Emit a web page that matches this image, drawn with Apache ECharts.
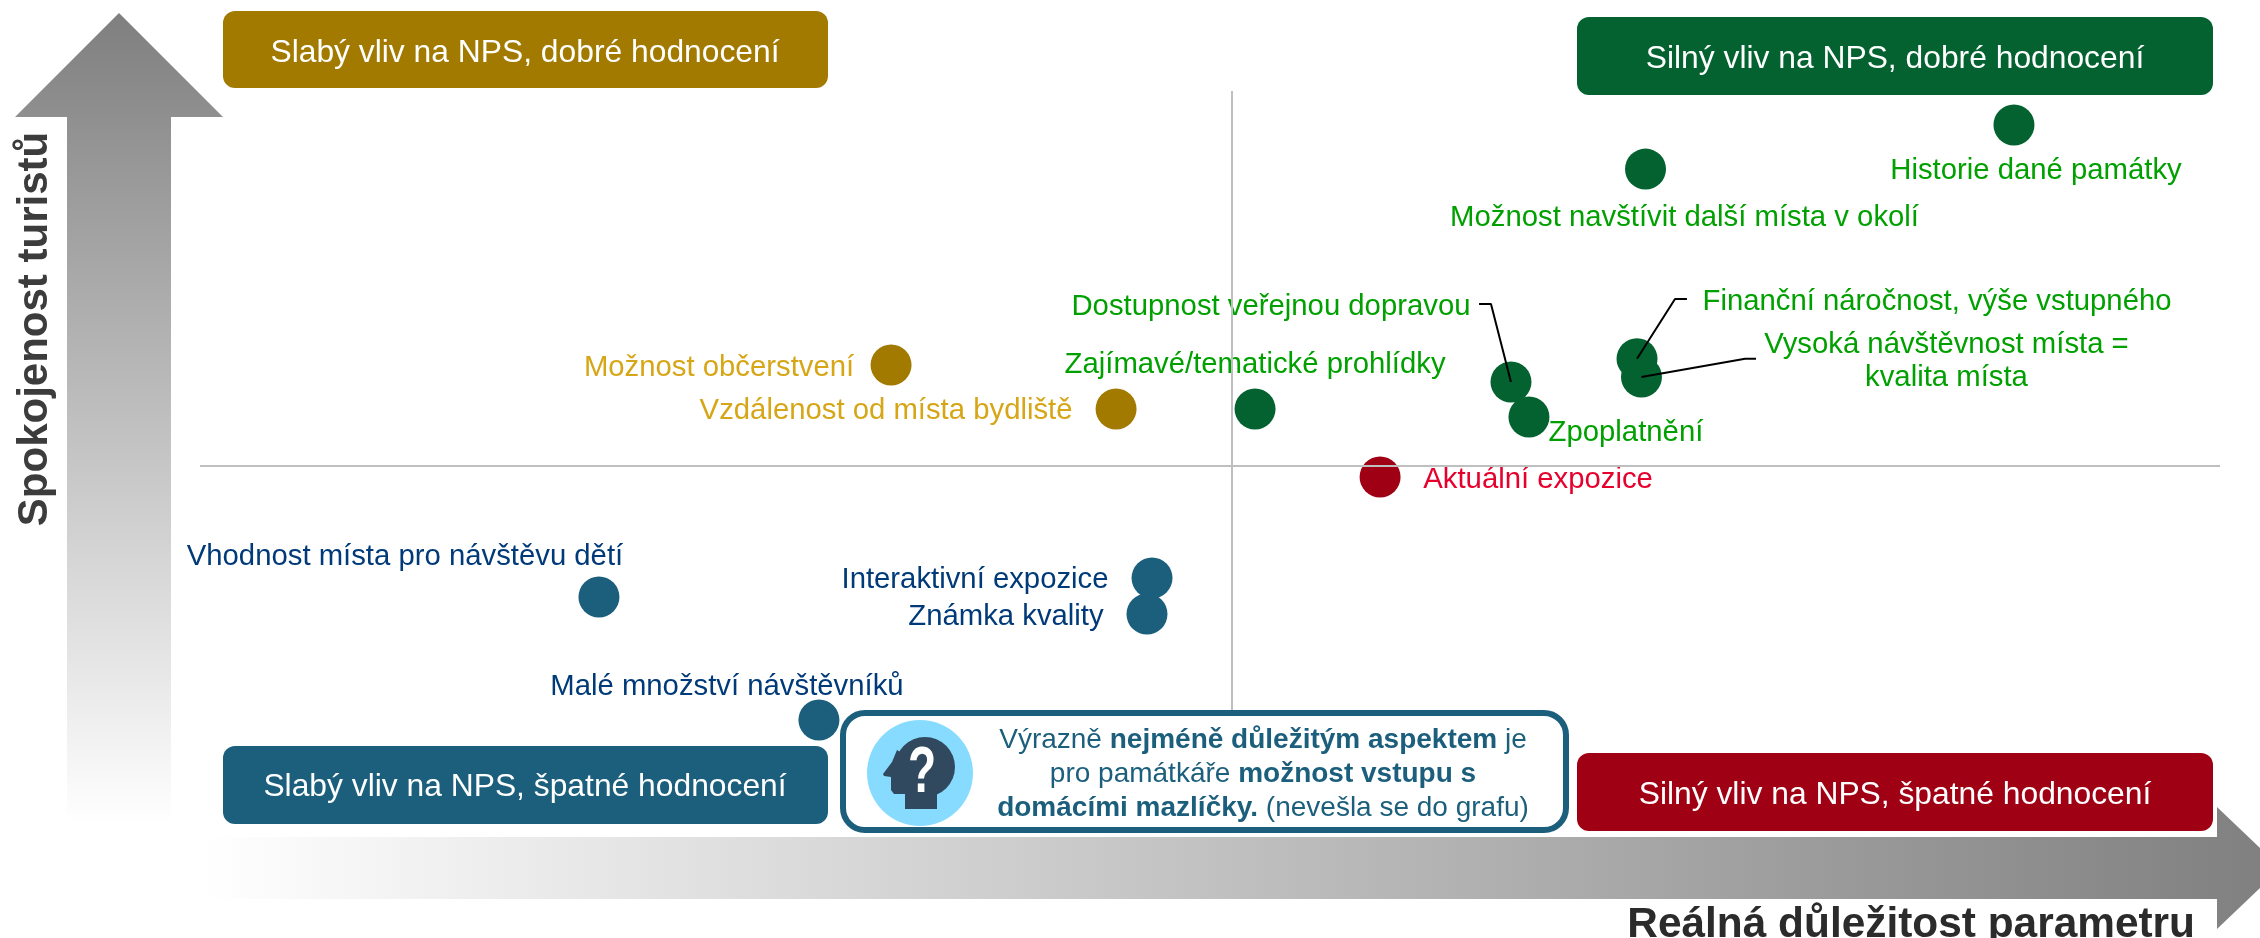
<!DOCTYPE html>
<html>
<head>
<meta charset="utf-8">
<title>Spokojenost turistů a důležitost parametrů</title>
<style>
  html, body { margin: 0; background: #fff; }
  #chart { width: 2260px; height: 938px; }
</style>
<script src="https://cdn.jsdelivr.net/npm/echarts@6/dist/echarts.min.js"></script>
</head>
<body>
<div id="chart"></div>
<script>
const xThreshold = 5.109
const yThreshold = 4.477

const strongGoodNames = ['Historie dané památky', 'Možnost navštívit další místa v okolí', 'Finanční náročnost, výše vstupného', 'Vysoká návštěvnost místa =\nkvalita místa', 'Dostupnost veřejnou dopravou', 'Zpoplatnění', 'Zajímavé/tematické prohlídky']
const strongGoodX = [8.98, 7.156, 7.114, 7.136, 6.49, 6.579, 5.223]
const strongGoodY = [9.5, 8.85, 6.057, 5.788, 5.714, 5.199, 5.317]

const weakGoodNames = ['Možnost občerstvení', 'Vzdálenost od místa bydliště']
const weakGoodX = [3.421, 4.535]
const weakGoodY = [5.965, 5.317]

const strongBadNames = ['Aktuální expozice']
const strongBadX = [5.842]
const strongBadY = [4.315]

const weakBadNames = ['Vhodnost místa pro návštěvu dětí', 'Interaktivní expozice', 'Známka kvality', 'Malé množství návštěvníků']
const weakBadX = [1.975, 4.713, 4.688, 3.064]
const weakBadY = [2.548, 2.828, 2.297, 0.736]

// leader lines: label end, elbow, point
const leaderDostupnost = [[6.332, 6.863], [6.391, 6.863], [6.49, 5.714]]
const leaderFinancni = [[7.361, 6.937], [7.302, 6.937], [7.114, 6.057]]
const leaderVysoka = [[7.703, 6.056], [7.649, 6.056], [7.136, 5.788]]

// label placement relative to the point, px
const labelOffsets = {
  'Historie dané památky': [22, 46],
  'Možnost navštívit další místa v okolí': [39, 49],
  'Finanční náročnost, výše vstupného': [300, -57],
  'Vysoká návštěvnost místa =\nkvalita místa': [305, -16],
  'Dostupnost veřejnou dopravou': [-240, -75],
  'Zpoplatnění': [97, 16],
  'Zajímavé/tematické prohlídky': [0, -44],
  'Možnost občerstvení': [-172, 3],
  'Vzdálenost od místa bydliště': [-230, 2],
  'Aktuální expozice': [158, 3],
  'Vhodnost místa pro návštěvu dětí': [-194, -40],
  'Interaktivní expozice': [-177, 2],
  'Známka kvality': [-141, 3],
  'Malé množství návštěvníků': [-92, -33]
}

const FONT = '"Liberation Sans", Arial, sans-serif'
const GREEN = '#03622f'
const GOLD = '#a27a00'
const BLUE = '#1c5f7c'
const RED = '#a00014'

const pointSeries = (name, names, xs, ys, color, labelColor) => ({
  name,
  type: 'scatter',
  symbolSize: 41,
  itemStyle: { color, opacity: 1 },
  z: 3,
  data: names.map((n, i) => ({
    name: n,
    value: [xs[i], ys[i]],
    label: { offset: labelOffsets[n] }
  })),
  label: {
    show: true,
    position: 'inside',
    formatter: '{b}',
    color: labelColor,
    fontFamily: FONT,
    fontSize: 29.3,
    lineHeight: 33,
    align: 'center',
    verticalAlign: 'middle'
  }
})

const leaderSeries = (data) => ({
  type: 'line',
  data,
  symbol: 'none',
  silent: true,
  z: 5,
  lineStyle: { color: '#000', width: 2 }
})

const quadrantBox = (x, y, width, height, color) => ({
  type: 'rect',
  z: 20,
  shape: { x, y, width, height, r: 12 },
  style: { fill: color }
})

const boxText = (x, y, text) => ({
  type: 'text',
  z: 21,
  x,
  y,
  style: { text, fill: '#fff', fontFamily: FONT, fontSize: 31.8, align: 'center', verticalAlign: 'middle' }
})

const calloutStyles = {
  n: { fontFamily: FONT, fontSize: 28, fill: BLUE },
  b: { fontFamily: FONT, fontSize: 28, fontWeight: 'bold', fill: BLUE }
}

const calloutLine = (y, parts) => ({
  type: 'text',
  z: 22,
  x: 1263,
  y,
  style: {
    rich: calloutStyles,
    text: parts,
    align: 'center',
    verticalAlign: 'middle'
  }
})

const chart = echarts.init(document.getElementById('chart'), null, { renderer: 'canvas' })

chart.setOption({
  animation: false,
  backgroundColor: '#fff',
  grid: { left: 200, right: 40, top: 91, bottom: 168 },
  xAxis: { type: 'value', min: 0, max: 10, axisLine: { show: false }, axisTick: { show: false }, axisLabel: { show: false }, splitLine: { show: false } },
  yAxis: { type: 'value', min: 0, max: 10, axisLine: { show: false }, axisTick: { show: false }, axisLabel: { show: false }, splitLine: { show: false } },
  series: [
    {
      ...pointSeries('Silný vliv, dobré hodnocení', strongGoodNames, strongGoodX, strongGoodY, GREEN, '#00a000'),
      markLine: {
        silent: true,
        symbol: 'none',
        label: { show: false },
        lineStyle: { color: '#bfbfbf', width: 2, type: 'solid' },
        data: [{ xAxis: xThreshold }, { yAxis: yThreshold }]
      }
    },
    pointSeries('Slabý vliv, dobré hodnocení', weakGoodNames, weakGoodX, weakGoodY, GOLD, '#d6a617'),
    pointSeries('Silný vliv, špatné hodnocení', strongBadNames, strongBadX, strongBadY, RED, '#e6002d'),
    pointSeries('Slabý vliv, špatné hodnocení', weakBadNames, weakBadX, weakBadY, BLUE, '#003a78'),
    leaderSeries(leaderDostupnost),
    leaderSeries(leaderFinancni),
    leaderSeries(leaderVysoka)
  ],
  graphic: [
    // axis arrows
    {
      type: 'polygon',
      z: 1,
      shape: { points: [[119, 13], [223, 117], [171, 117], [171, 823], [67, 823], [67, 117], [15, 117]] },
      style: {
        fill: { type: 'linear', x: 0, y: 0, x2: 0, y2: 1, colorStops: [{ offset: 0, color: '#7f7f7f' }, { offset: 1, color: '#ffffff' }] }
      }
    },
    {
      type: 'polygon',
      z: 1,
      shape: { points: [[204, 837], [2217, 837], [2217, 807], [2281, 868], [2217, 929], [2217, 899], [204, 899]] },
      style: {
        fill: { type: 'linear', x: 0, y: 0, x2: 1, y2: 0, colorStops: [{ offset: 0, color: '#ffffff' }, { offset: 1, color: '#7f7f7f' }] }
      }
    },
    {
      type: 'text',
      z: 21,
      x: 35,
      y: 329,
      rotation: Math.PI / 2,
      style: { text: 'Spokojenost turistů', fontFamily: FONT, fontSize: 42, fontWeight: 'bold', fill: '#3c3c3c', align: 'center', verticalAlign: 'middle' }
    },
    {
      type: 'text',
      z: 21,
      x: 2195,
      y: 925,
      style: { text: 'Reálná důležitost parametru', fontFamily: FONT, fontSize: 42.4, fontWeight: 'bold', fill: '#2b2b2b', align: 'right', verticalAlign: 'middle' }
    },
    // quadrant boxes
    quadrantBox(223, 11, 605, 77, GOLD),
    boxText(525, 53, 'Slabý vliv na NPS, dobré hodnocení'),
    quadrantBox(1577, 17, 636, 78, GREEN),
    boxText(1895, 59, 'Silný vliv na NPS, dobré hodnocení'),
    quadrantBox(223, 746, 605, 78, BLUE),
    boxText(525, 787, 'Slabý vliv na NPS, špatné hodnocení'),
    quadrantBox(1577, 753, 636, 78, RED),
    boxText(1895, 795, 'Silný vliv na NPS, špatné hodnocení'),
    // callout
    {
      type: 'rect',
      z: 20,
      shape: { x: 843, y: 713, width: 723, height: 117, r: 22 },
      style: { fill: '#fff', stroke: BLUE, lineWidth: 6 }
    },
    { type: 'circle', z: 21, shape: { cx: 920, cy: 773, r: 53 }, style: { fill: '#87dbff' } },
    { type: 'circle', z: 22, shape: { cx: 925, cy: 767, r: 30 }, style: { fill: '#31495e' } },
    {
      type: 'polygon',
      z: 22,
      shape: { points: [[905, 809], [937, 809], [937, 793], [925, 767], [897, 750], [892, 762], [883, 774], [884, 776], [891, 777], [891, 790], [894, 794], [905, 794]] },
      style: { fill: '#31495e' }
    },
    {
      type: 'text',
      z: 23,
      x: 922,
      y: 774,
      scaleX: 0.72,
      style: { text: '?', fontFamily: FONT, fontSize: 64, fontWeight: 'bold', fill: '#fff', align: 'center', verticalAlign: 'middle' }
    },
    calloutLine(740, '{n|Výrazně }{b|nejméně důležitým aspektem}{n| je}'),
    calloutLine(774, '{n|pro památkáře }{b|možnost vstupu s}'),
    calloutLine(808, '{b|domácími mazlíčky.}{n| (nevešla se do grafu)}')
  ]
})
</script>
</body>
</html>
